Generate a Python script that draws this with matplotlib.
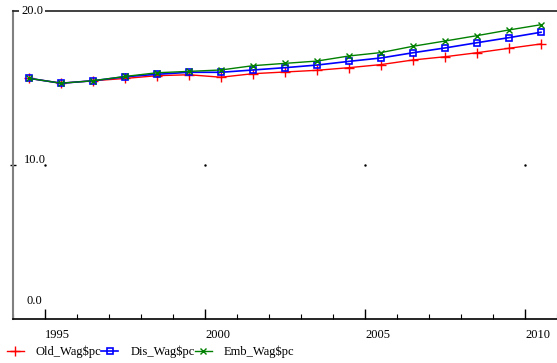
import matplotlib
matplotlib.use("Agg")
import matplotlib.pyplot as plt
import matplotlib.transforms as mtransforms

plt.rcParams['font.family'] = ['Liberation Serif', 'DejaVu Serif']

# time points (half-year offsets, as in the source chart)
years = [1994.5, 1995.5, 1996.5, 1997.5, 1998.5, 1999.5, 2000.5, 2001.5, 2002.5,
         2003.5, 2004.5, 2005.5, 2006.5, 2007.5, 2008.5, 2009.5, 2010.5]

old_wag = [15.63, 15.31, 15.47, 15.62, 15.80, 15.86, 15.70, 15.93, 16.04,
           16.15, 16.32, 16.52, 16.82, 17.03, 17.29, 17.58, 17.86]
dis_wag = [15.63, 15.31, 15.47, 15.73, 15.89, 16.02, 16.02, 16.17, 16.32,
           16.49, 16.73, 16.95, 17.29, 17.60, 17.94, 18.27, 18.62]
emb_wag = [15.63, 15.31, 15.47, 15.75, 15.99, 16.08, 16.17, 16.45, 16.60,
           16.75, 17.08, 17.30, 17.71, 18.05, 18.40, 18.77, 19.11]

series_names = ['Old_Wag$pc', 'Dis_Wag$pc', 'Emb_Wag$pc']
major_years = [1995, 2000, 2005, 2010]
minor_years = list(range(1994, 2012))

fig = plt.figure(figsize=(5.57, 3.63), dpi=100)
ax = fig.add_axes([0.0233, 0.1212, 0.9767, 0.8485])

ax.plot(years, old_wag, color='red', lw=1, marker='+', ms=7, mew=1, label=series_names[0])
ax.plot(years, dis_wag, color='blue', lw=1.2, marker='s', ms=4.5, mfc='none', mew=1.2,
        label=series_names[1])
ax.plot(years, emb_wag, color='green', lw=1, marker='x', ms=5, mew=1, label=series_names[2])

# little grid dots at the middle value
ax.plot(major_years, [10] * len(major_years), 'k.', ms=1.5)

ax.set_xlim(1994, 2010.95)
ax.set_ylim(0, 20)

ax.spines['right'].set_visible(False)
ax.spines['left'].set_color('#808080')
ax.spines['left'].set_linewidth(1.5)
ax.spines['top'].set_color('#202020')
ax.spines['top'].set_linewidth(1.2)
ax.spines['bottom'].set_linewidth(1.2)

ax.set_xticks(major_years)
ax.set_xticks(minor_years, minor=True)
ax.set_xticklabels([str(y) for y in major_years], ha='left', fontsize=9)
offset = mtransforms.ScaledTranslation(2 / 100, 0, fig.dpi_scale_trans)
for lbl in ax.get_xticklabels():
    lbl.set_transform(lbl.get_transform() + offset)
ax.tick_params(axis='x', which='major', direction='in', length=7, width=1, pad=7)
ax.tick_params(axis='x', which='minor', direction='in', length=3.5, width=0.8)

ax.set_yticks([10])
ax.set_yticklabels([])
ax.tick_params(axis='y', direction='inout', length=5, width=1)

ax.annotate('20.0', xy=(0, 20), xycoords=('axes fraction', 'data'),
            xytext=(6, 0), textcoords='offset points', va='center', ha='left',
            fontsize=9, bbox=dict(boxstyle='square,pad=0.15', fc='white', ec='none'))
ax.annotate('10.0', xy=(0, 10), xycoords=('axes fraction', 'data'),
            xytext=(8, -1), textcoords='offset points', va='bottom', ha='left', fontsize=9)
ax.annotate('0.0', xy=(0, 0), xycoords=('axes fraction', 'data'),
            xytext=(10, 9), textcoords='offset points', va='bottom', ha='left', fontsize=9)

fig.legend(loc='center left', bbox_to_anchor=(0.012, 0.03), ncol=3, frameon=False,
           fontsize=9, handlelength=1.36, handletextpad=0.96, columnspacing=0.0,
           borderpad=0, borderaxespad=0)

fig.savefig('out.png', dpi=100)
